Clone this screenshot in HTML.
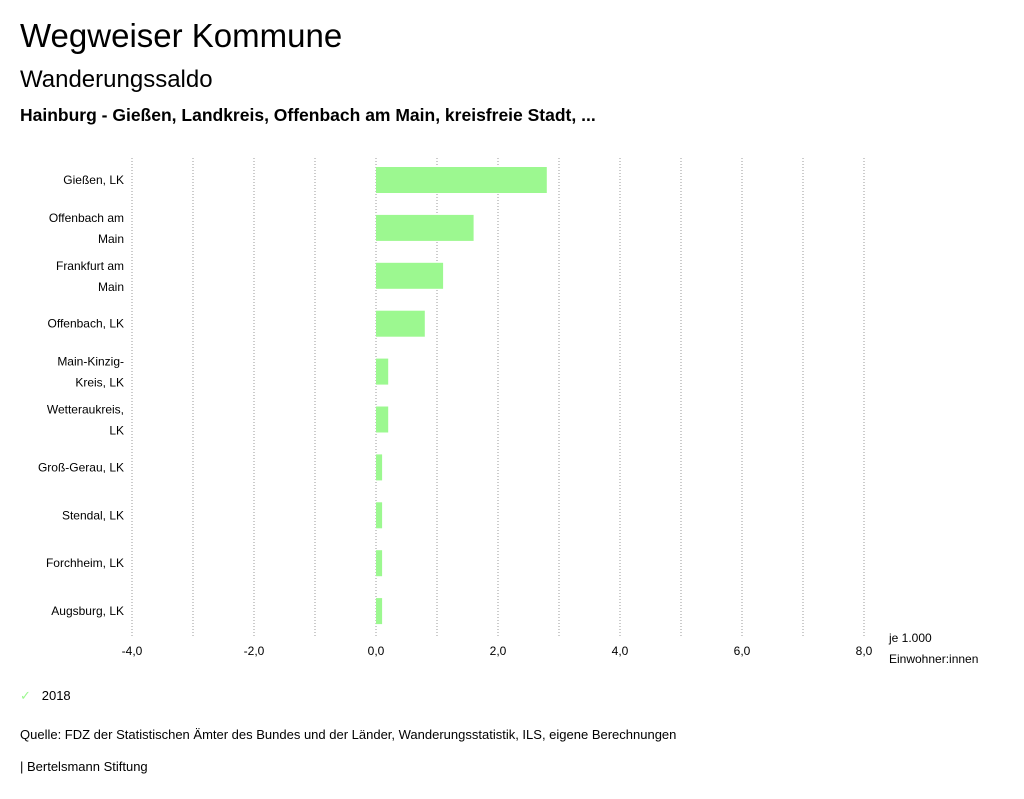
<!DOCTYPE html>
<html><head><meta charset="utf-8"><style>
body{margin:0;width:1024px;height:799px;background:#fff;font-family:"Liberation Sans",sans-serif;color:#000;overflow:hidden;position:relative}
.t{position:absolute;white-space:nowrap}
</style></head><body>
<div class="t" style="left:20px;top:17px;font-size:33px">Wegweiser Kommune</div>
<div class="t" style="left:20px;top:66px;font-size:24px">Wanderungssaldo</div>
<div class="t" style="left:20px;top:105px;font-size:17.5px;font-weight:bold">Hainburg - Gießen, Landkreis, Offenbach am Main, kreisfreie Stadt, ...</div>
<svg id="chart" width="1024" height="680" style="position:absolute;left:0;top:0" font-family="Liberation Sans, sans-serif"></svg>
<div class="t" style="left:20px;top:688px;font-size:13px"><span style="color:#9cf890">✓</span>&nbsp;&nbsp;&nbsp;2018</div>
<div class="t" style="left:20px;top:727px;font-size:13px">Quelle: FDZ der Statistischen Ämter des Bundes und der Länder, Wanderungsstatistik, ILS, eigene Berechnungen</div>
<div class="t" style="left:20px;top:759px;font-size:13px">| Bertelsmann Stiftung</div>
<script>
const categories=[["Gießen, LK"],["Offenbach am","Main"],["Frankfurt am","Main"],["Offenbach, LK"],["Main-Kinzig-","Kreis, LK"],["Wetteraukreis,","LK"],["Groß-Gerau, LK"],["Stendal, LK"],["Forchheim, LK"],["Augsburg, LK"]];
const values2018=[2.8,1.6,1.1,0.8,0.2,0.2,0.1,0.1,0.1,0.1];
const tickValues=[-4,-2,0,2,4,6,8];
const tickLabels=["-4,0","-2,0","0,0","2,0","4,0","6,0","8,0"];
const NS="http://www.w3.org/2000/svg";
const svg=document.getElementById('chart');
const x=v=>376+v*61;
const yC=i=>180+i*47.9;
function mk(t,a){const e=document.createElementNS(NS,t);for(const k in a)e.setAttribute(k,a[k]);svg.appendChild(e);return e;}
for(let v=-4;v<=8;v++){
 const l=mk('line',{x1:x(v),x2:x(v),y1:158,y2:636,stroke:'#999','stroke-dasharray':'1,2','stroke-width':1});
 
 
}
tickValues.forEach((v,i)=>{
 const t=mk('text',{x:x(v),y:655,'text-anchor':'middle','font-size':12});
 t.textContent=tickLabels[i];
 
 
});
[["je 1.000",642],["Einwohner:innen",663]].forEach(([s,y])=>{
 const t=mk('text',{x:889,y:y,'font-size':12});t.textContent=s;
 
 
});
categories.forEach((c,i)=>{
 const cy=yC(i);
 const b=mk('rect',{x:x(0),y:cy-13,width:x(values2018[i])-x(0),height:26,fill:'#9cf890'});
 
 
 c.forEach((s,j)=>{
  const y=c.length==1?cy+4:cy-6+j*21;
  const t=mk('text',{x:124,y:y,'text-anchor':'end','font-size':12});t.textContent=s;
  
  
 });
});
</script>
</body></html>
